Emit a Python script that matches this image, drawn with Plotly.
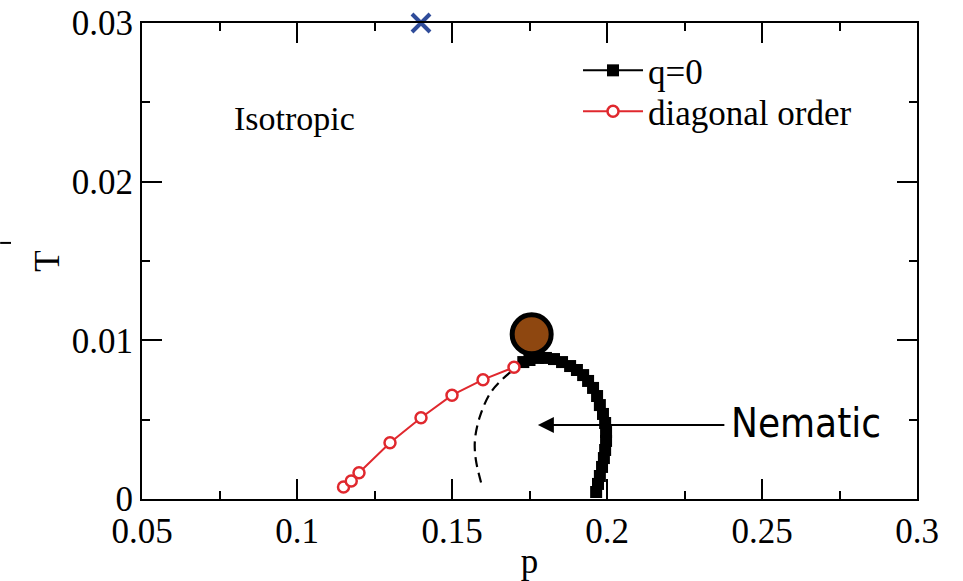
import plotly.graph_objects as go

# ---- data ----
q0_p = [0.173, 0.175, 0.1777, 0.1803, 0.1829, 0.1855, 0.1881, 0.1903, 0.1923, 0.1939,
        0.1955, 0.1968, 0.1977, 0.1987, 0.1994, 0.1997, 0.1997, 0.1994, 0.199, 0.1984,
        0.1977, 0.1971, 0.1965]
q0_T = [0.00863, 0.00876, 0.00889, 0.00889, 0.00882, 0.00863, 0.00838, 0.00813, 0.00781, 0.00744,
        0.0070, 0.00649, 0.00592, 0.00536, 0.00479, 0.00422, 0.00366, 0.00309, 0.00258, 0.00202,
        0.00145, 0.00095, 0.00044]

diag_p = [0.115, 0.1175, 0.12, 0.13, 0.14, 0.15, 0.16, 0.17]
diag_T = [0.00076, 0.00113, 0.00166, 0.00355, 0.00512, 0.00654, 0.00752, 0.0083]

dash_p = [0.1728, 0.1695, 0.166, 0.1623, 0.159, 0.1574, 0.1577, 0.1599]
dash_T = [0.00863, 0.0081, 0.0075, 0.00666, 0.0052, 0.00372, 0.00246, 0.00067]

crit_p = [0.1757]
crit_T = [0.01038]

cross_p = [0.14]
cross_T = [0.03]

x_ticks = [0.05, 0.1, 0.15, 0.2, 0.25, 0.3]
x_labels = ["0.05", "0.1", "0.15", "0.2", "0.25", "0.3"]
y_ticks = [0, 0.01, 0.02, 0.03]
y_labels = ["0", "0.01", "0.02", "0.03"]

SERIF = "Liberation Serif, Times New Roman, serif"
NARROW = "Liberation Sans Narrow, DejaVu Sans Condensed, Arial Narrow, sans-serif"

fig = go.Figure()

fig.add_trace(go.Scatter(
    x=dash_p, y=dash_T, mode="lines",
    line=dict(color="black", width=2.2, dash="10px,6px", shape="spline"),
    showlegend=False, hoverinfo="skip", cliponaxis=False))

fig.add_trace(go.Scatter(
    x=q0_p, y=q0_T, mode="lines+markers", name="q=0", legend="legend",
    line=dict(color="black", width=2),
    marker=dict(symbol="square", size=12, color="black"),
    cliponaxis=False))

fig.add_trace(go.Scatter(
    x=diag_p, y=diag_T, mode="lines+markers", name="diagonal order", legend="legend2",
    line=dict(color="#E0282E", width=2),
    marker=dict(symbol="circle", size=11, color="white", line=dict(color="#E0282E", width=2.5)),
    cliponaxis=False))

fig.add_trace(go.Scatter(
    x=crit_p, y=crit_T, mode="markers", showlegend=False,
    marker=dict(symbol="circle", size=39, color="#8E4710", line=dict(color="black", width=5)),
    cliponaxis=False))

fig.add_trace(go.Scatter(
    x=cross_p, y=cross_T, mode="markers", showlegend=False,
    marker=dict(symbol="x-thin", size=18, color="#2F4C9A", line=dict(color="#2F4C9A", width=4)),
    cliponaxis=False))

fig.add_annotation(x=0.079, y=0.024, xref="x", yref="y", text="Isotropic", showarrow=False,
                   xanchor="left", yanchor="middle", font=dict(family=SERIF, size=34, color="black"))

fig.add_annotation(x=0.1777, y=0.00466, xref="x", yref="y", text="", showarrow=True,
                   ax=188, ay=0, axref="pixel", ayref="pixel",
                   arrowhead=2, arrowsize=1.6, arrowwidth=2, arrowcolor="black")

fig.add_annotation(x=0.2393, y=0.00479, xref="x", yref="y", text="Nematic", showarrow=False,
                   xanchor="left", yanchor="middle", font=dict(family=NARROW, size=40, color="black"))

# small stray mark at the left edge of the reference
fig.add_shape(type="line", xref="paper", yref="paper", x0=-0.183, x1=-0.169, y0=0.538, y1=0.538,
              line=dict(color="black", width=2))

axis_common = dict(showline=True, linecolor="black", linewidth=2, mirror="ticks",
                   ticks="inside", ticklen=20, tickwidth=2, tickcolor="black",
                   showgrid=False, zeroline=False,
                   tickfont=dict(family=SERIF, size=35, color="black"))

fig.update_xaxes(range=[0.05, 0.3], tickvals=x_ticks, ticktext=x_labels,
                 minor=dict(ticks="inside", ticklen=8, tickwidth=2, tickcolor="black", dtick=0.025, tick0=0.05),
                 title=dict(text="p", font=dict(family=SERIF, size=35, color="black"), standoff=0),
                 **axis_common)
fig.update_yaxes(range=[0, 0.03], tickvals=y_ticks, ticktext=y_labels,
                 minor=dict(ticks="inside", ticklen=8, tickwidth=2, tickcolor="black", dtick=0.005, tick0=0),
                 title=dict(text="T", font=dict(family=SERIF, size=35, color="black"), standoff=2),
                 **axis_common)

legend_common = dict(xanchor="left", yanchor="top", bgcolor="rgba(0,0,0,0)",
                     font=dict(family=SERIF, size=35, color="black"), itemwidth=60)

fig.update_layout(
    width=963, height=581,
    margin=dict(l=142, r=46, t=23, b=82, autoexpand=False),
    paper_bgcolor="white", plot_bgcolor="white",
    legend=dict(x=0.5626, y=0.962, **legend_common),
    legend2=dict(x=0.5626, y=0.876, **legend_common),
)

fig.write_html("out.html")
